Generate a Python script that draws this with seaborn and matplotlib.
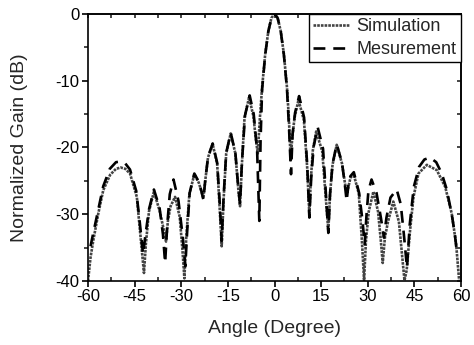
import matplotlib
matplotlib.use('Agg')
import matplotlib.pyplot as plt
import seaborn as sns
import pandas as pd
from matplotlib.ticker import MultipleLocator, NullFormatter

# simulated pattern (angle in degree, normalized gain in dB)
sim_angle = [-60, -59.2, -58.3, -56.7, -55.1, -52.9, -51.0, -49.5, -48.0, -46.5, -44.3, -43.3, -42.0,
             -41.4, -40.4, -38.8, -36.9, -35.7, -34.9,
             -34.3, -33.45, -32.0, -30.5, -29.6, -29.0,
             -28.4, -27.4, -25.8, -24.35, -23.5, -22.9,
             -22.3, -21.4, -19.9, -18.45, -17.6, -17.0,
             -16.4, -15.55, -14.1, -12.6, -11.7, -11.1,
             -10.5, -9.65, -8.2, -6.8, -6.0, -5.4,
             -4.7, -4.0, -3.0, -2.0, -1.0, 0.0, 1.0, 2.0, 3.0, 4.0, 4.6, 5.2,
             5.7, 6.45, 7.7, 9.45, 10.5, 11.2,
             11.65, 12.3, 13.4, 15.35, 16.5, 17.3,
             17.85, 18.65, 20.0, 21.7, 22.7, 23.4,
             23.8, 24.4, 25.4, 27.1, 28.1, 28.8,
             29.4, 30.3, 31.8, 33.3, 34.2, 34.8,
             35.5, 36.5, 38.2, 40.0, 41.1, 41.8,
             42.5, 43.6, 44.7, 46.3, 49.0, 52.2, 54.9, 57.0, 58.4, 59.4]
sim_gain = [-40.0, -36.5, -33.9, -29.9, -26.4, -24.1, -23.2, -23.0, -23.2, -23.9, -27.4, -32.4, -38.8,
            -34.5, -29.6, -26.6, -29.6, -32.2, -34.1,
            -31.0, -28.8, -27.4, -30.4, -35.5, -39.6,
            -33.5, -27.0, -24.0, -25.3, -26.6, -27.6,
            -25.0, -21.5, -19.5, -22.5, -29.5, -34.8,
            -27.9, -20.9, -17.9, -20.9, -26.0, -28.8,
            -22.5, -15.5, -12.5, -15.3, -18.8, -20.9,
            -15.5, -11.0, -6.0, -2.6, -0.6, 0.0, -0.6, -2.6, -6.0, -11.0, -15.5, -21.9,
            -18.5, -15.5, -12.9, -15.9, -23.0, -30.0,
            -25.0, -20.5, -17.6, -20.6, -27.6, -32.5,
            -27.0, -22.6, -19.6, -22.4, -25.5, -26.9,
            -25.8, -24.6, -23.9, -26.9, -33.9, -39.9,
            -34.0, -29.6, -26.6, -29.6, -34.0, -37.3,
            -33.5, -31.1, -28.1, -31.1, -36.5, -39.9,
            -38.4, -32.4, -27.4, -23.9, -22.6, -23.4, -25.9, -29.9, -34.4, -40.0]

# measured pattern
mes_angle = [-59.2, -58.3, -56.7, -55.1, -53.0, -51.0, -49.5, -48.0, -46.5, -44.5, -43.4, -42.3,
             -41.5, -40.4, -38.8, -37.0, -35.9, -35.2,
             -34.5, -33.7, -32.5, -30.9, -29.5, -28.7,
             -28.1, -27.3, -25.8, -24.3, -23.5, -22.9,
             -22.3, -21.4, -19.9, -18.45, -17.6, -17.0,
             -16.4, -15.55, -14.1, -12.6, -11.7, -11.1,
             -10.5, -9.5, -8.0, -6.7, -5.6, -4.9,
             -4.5, -4.0, -3.0, -2.0, -1.0, 0.0, 1.0, 2.0, 3.0, 4.0, 4.7, 5.3,
             5.8, 6.6, 7.9, 9.5, 10.5, 11.2,
             11.8, 12.6, 13.9, 15.6, 16.6, 17.3,
             17.85, 18.65, 20.0, 21.7, 22.6, 23.2,
             23.7, 24.4, 25.5, 27.2, 28.3, 29.0,
             29.6, 30.2, 31.2, 32.8, 34.2, 35.2,
             36.0, 37.3, 39.3, 40.6, 41.6, 42.6,
             43.5, 44.8, 46.5, 48.2, 50.0, 52.0, 53.8, 55.4, 57.0, 58.0, 58.7]
mes_gain = [-34.8, -32.8, -29.3, -25.8, -23.2, -22.2, -22.1, -22.4, -23.3, -26.5, -31.0, -36.0,
            -33.0, -29.3, -26.3, -29.0, -33.0, -37.3,
            -31.5, -27.0, -24.8, -28.0, -33.5, -37.8,
            -32.5, -26.8, -23.9, -25.2, -26.6, -27.8,
            -25.0, -21.4, -19.4, -22.3, -28.5, -34.0,
            -27.5, -20.8, -17.8, -20.8, -25.8, -28.5,
            -22.3, -15.2, -12.2, -15.0, -20.5, -31.0,
            -19.0, -11.3, -6.1, -2.6, -0.6, 0.0, -0.6, -2.6, -6.1, -11.2, -17.5, -24.0,
            -18.0, -14.8, -12.3, -15.5, -22.5, -30.5,
            -24.5, -19.8, -17.0, -20.2, -27.5, -32.8,
            -27.0, -22.5, -19.5, -22.3, -25.5, -28.0,
            -25.8, -24.3, -23.7, -26.8, -31.0, -34.5,
            -30.0, -26.5, -24.8, -26.8, -30.5, -33.5,
            -30.5, -27.5, -26.3, -28.5, -33.0, -38.0,
            -31.5, -25.9, -22.9, -21.8, -21.5, -22.2, -23.9, -26.3, -30.0, -33.0, -35.9]

sns.set_theme(style='ticks')
plt.rcParams['font.family'] = ['Liberation Sans', 'DejaVu Sans']
plt.rcParams['axes.unicode_minus'] = False

fig = plt.figure(figsize=(4.74, 3.45), dpi=100)
ax = fig.add_axes([0.1857, 0.1855, 0.787, 0.774])

sim = pd.DataFrame({'angle': sim_angle, 'gain': sim_gain})
mes = pd.DataFrame({'angle': mes_angle, 'gain': mes_gain})

sns.lineplot(data=sim, x='angle', y='gain', sort=False, ax=ax, color='#444444',
             lw=1.9, linestyle=(0, (1, 0.4)), label='Simulation')
sns.lineplot(data=mes, x='angle', y='gain', sort=False, ax=ax, color='black',
             lw=1.9, linestyle=(0, (4.5, 3)), label='Mesurement')

ax.set_xlim(-60, 60)
ax.set_ylim(-40, 0)
ax.xaxis.set_major_locator(MultipleLocator(15))
ax.xaxis.set_minor_locator(MultipleLocator(7.5))
ax.yaxis.set_major_locator(MultipleLocator(10))
ax.yaxis.set_minor_locator(MultipleLocator(5))
ax.tick_params(axis='both', which='major', labelsize=12, width=1.2, length=4,
               direction='out', colors='black', pad=2)
ax.tick_params(axis='x', which='minor', direction='in', length=3, width=1.2)
ax.tick_params(axis='y', which='minor', direction='out', length=3, width=1.2)
for sp in ax.spines.values():
    sp.set_visible(True)
    sp.set_linewidth(1.2)
    sp.set_color('black')

# inward ticks on top and right
top = ax.secondary_xaxis('top')
top.xaxis.set_major_locator(MultipleLocator(7.5))
top.xaxis.set_major_formatter(NullFormatter())
top.tick_params(direction='in', length=3, width=1.2)
right = ax.secondary_yaxis('right')
right.yaxis.set_major_locator(MultipleLocator(5))
right.yaxis.set_major_formatter(NullFormatter())
right.tick_params(direction='in', length=3, width=1.2)

ax.set_xlabel('Angle (Degree)', fontsize=14, labelpad=11)
ax.set_ylabel('Normalized Gain (dB)', fontsize=14, labelpad=20)

leg = ax.legend(loc='upper right', borderaxespad=0, fontsize=13, fancybox=False,
                framealpha=1, edgecolor='black', handlelength=2.0, handletextpad=0.4,
                borderpad=0.25, labelspacing=0.3)
leg.get_frame().set_linewidth(1.0)

fig.savefig('out.png', dpi=100)
